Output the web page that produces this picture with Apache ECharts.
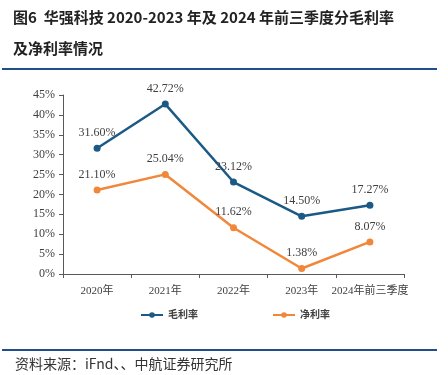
<!DOCTYPE html>
<html><head><meta charset="utf-8">
<script src="https://cdn.jsdelivr.net/npm/echarts@6/dist/echarts.min.js"></script>
<style>html,body{margin:0;padding:0;background:#fff}#c{width:448px;height:375px}</style>
</head><body><div id="c"></div>
<script>
const categories = ['2020年','2021年','2022年','2023年','2024年前三季度'];
const grossMargin = [31.60, 42.72, 23.12, 14.50, 17.27];
const netMargin = [21.10, 25.04, 11.62, 1.38, 8.07];
const seriesNames = ['毛利率','净利率'];
const yTicks = {min:0, max:45, interval:5};
const titleLine1 = '图6  华强科技 2020-2023 年及 2024 年前三季度分毛利率';
const titleLine2 = '及净利率情况';
const sourceText = '资料来源：iFnd、、中航证券研究所';

const serif = '"Liberation Serif","DejaVu Serif","Noto Sans CJK SC",serif';
const chart = echarts.init(document.getElementById('c'), null, {renderer:'canvas'});
const lbl = {show:true, position:'top', distance:6, fontFamily:serif, fontSize:12, color:'#404040', formatter: p => p.value.toFixed(2) + '%'};
chart.setOption({
  animation:false,
  textStyle:{fontFamily:serif},
  title:[
    {text:titleLine1, left:8, top:5, textStyle:{fontFamily:'"Noto Sans CJK SC",sans-serif', fontWeight:'bold', fontSize:15, color:'#222'}},
    {text:titleLine2, left:8, top:36, textStyle:{fontFamily:'"Noto Sans CJK SC",sans-serif', fontWeight:'bold', fontSize:15, color:'#222'}},
    {text:sourceText, left:10, top:352, textStyle:{fontFamily:'"Noto Sans CJK SC",sans-serif', fontWeight:'normal', fontSize:14, color:'#333'}}
  ],
  graphic:[
    {type:'line', shape:{x1:2,y1:69,x2:437,y2:69}, style:{stroke:'#1f4e8c', lineWidth:2}},
    {type:'line', shape:{x1:2,y1:350,x2:437,y2:350}, style:{stroke:'#1f4e8c', lineWidth:2}}
  ],
  grid:{left:63, right:44, top:95, bottom:101},
  legend:{
    data:seriesNames, top:305, left:135, itemGap:74, itemWidth:22, itemHeight:7,
    textStyle:{fontFamily:serif, fontSize:10, fontWeight:'bold', color:'#404040'}
  },
  xAxis:{
    type:'category', data:categories, boundaryGap:true,
    axisLine:{lineStyle:{color:'#595959', width:1}},
    axisTick:{show:true, length:4, lineStyle:{color:'#595959'}},
    axisLabel:{interval:0, fontFamily:serif, fontSize:11, color:'#404040', margin:12}
  },
  yAxis:{
    type:'value', min:yTicks.min, max:yTicks.max, interval:yTicks.interval,
    axisLine:{show:true, lineStyle:{color:'#595959', width:1}},
    axisTick:{show:true, length:4, lineStyle:{color:'#595959'}},
    splitLine:{show:false},
    axisLabel:{formatter:'{value}%', fontFamily:serif, fontSize:12, color:'#404040', margin:8}
  },
  series:[
    {name:seriesNames[0], type:'line', data:grossMargin, color:'#1b5a85', symbol:'circle', symbolSize:7,
     lineStyle:{width:2.5, color:'#1b5a85'}, itemStyle:{color:'#1b5a85'}, label:lbl},
    {name:seriesNames[1], type:'line', data:netMargin, color:'#f0873a', symbol:'circle', symbolSize:7,
     lineStyle:{width:2.5, color:'#f0873a'}, itemStyle:{color:'#f0873a'}, label:lbl}
  ]
});
</script></body></html>
